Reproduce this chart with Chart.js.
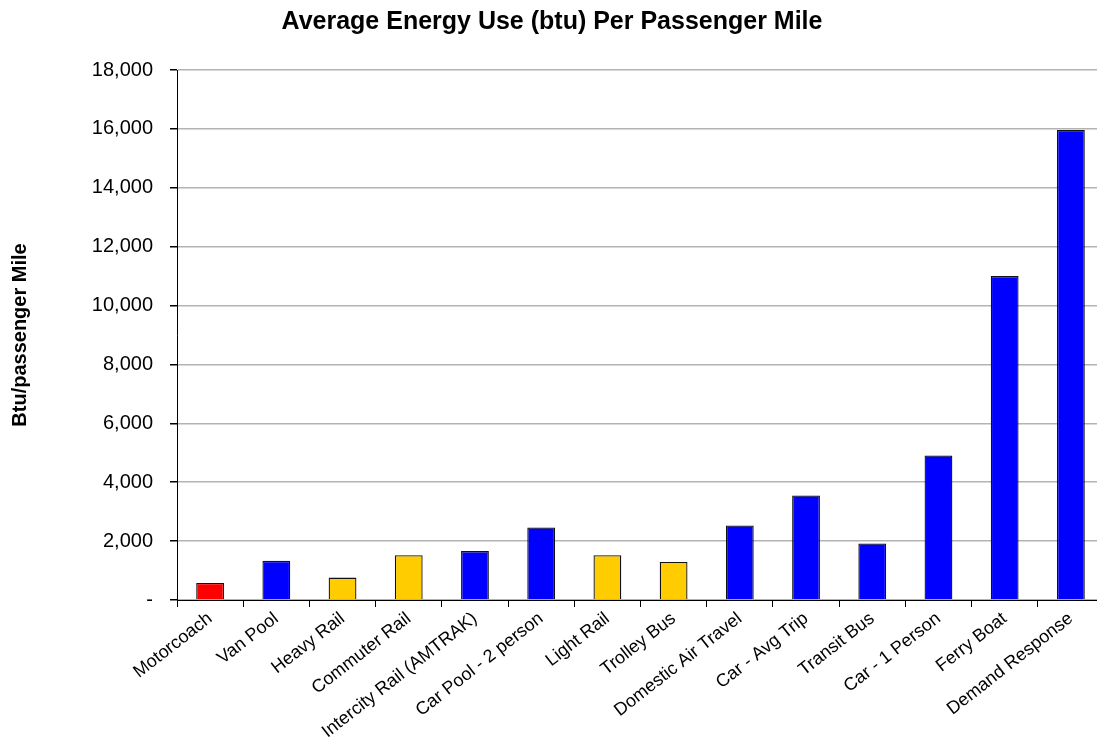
<!DOCTYPE html>
<html>
<head>
<meta charset="utf-8">
<title>Average Energy Use (btu) Per Passenger Mile</title>
<script src="https://cdn.jsdelivr.net/npm/chart.js@4/dist/chart.umd.min.js"></script>
<style>
    html, body { margin: 0; padding: 0; background: #fff; overflow: hidden; }
    #wrap { width: 1104px; height: 748px; }
</style>
</head>
<body>
<div id="wrap"><canvas id="chart" width="1104" height="748"></canvas></div>
<script>
// categories, left to right
const modes = [
    'Motorcoach', 'Van Pool', 'Heavy Rail', 'Commuter Rail', 'Intercity Rail (AMTRAK)',
    'Car Pool - 2 person', 'Light Rail', 'Trolley Bus', 'Domestic Air Travel',
    'Car - Avg Trip', 'Transit Bus', 'Car - 1 Person', 'Ferry Boat', 'Demand Response'
];

// btu per passenger mile
const btuPerMile = [580, 1330, 760, 1520, 1660, 2460, 1520, 1290, 2530, 3550, 1920, 4910, 11000, 15960];

// which group each bar belongs to (decides its colour)
const groups = [
    'coach', 'other', 'rail', 'rail', 'other', 'other', 'rail',
    'rail', 'other', 'other', 'other', 'other', 'other', 'other'
];

const yTicks = [0, 2000, 4000, 6000, 8000, 10000, 12000, 14000, 16000, 18000];

const groupColors = { coach: '#ff0000', rail: '#ffcc00', other: '#0000ff' };

const FONT = 'Arial, "Liberation Sans", sans-serif';

new Chart(document.getElementById('chart'), {
    type: 'bar',
    data: {
        labels: modes,
        datasets: [{
            label: 'Btu/passenger Mile',
            data: btuPerMile,
            backgroundColor: groups.map(g => groupColors[g]),
            borderColor: '#111',
            borderWidth: 1.3,
            borderSkipped: 'bottom',
            barPercentage: 0.42,
            categoryPercentage: 1
        }]
    },
    options: {
        responsive: false,
        animation: false,
        devicePixelRatio: 1,
        layout: { padding: 0 },
        plugins: {
            legend: { display: false },
            tooltip: { enabled: false },
            title: {
                display: true,
                text: 'Average Energy Use (btu) Per Passenger Mile',
                color: '#000',
                font: { family: FONT, size: 25, weight: 'bold' },
                padding: { top: 7, bottom: 33 }
            }
        },
        scales: {
            x: {
                offset: true,
                grid: {
                    offset: true,
                    drawOnChartArea: false,
                    drawTicks: true,
                    tickLength: 7,
                    tickColor: '#000'
                },
                border: { display: true, color: '#000', width: 1 },
                ticks: {
                    color: '#000',
                    font: { family: FONT, size: 18 },
                    minRotation: 38,
                    maxRotation: 38,
                    autoSkip: false,
                    padding: 1
                },
                afterFit(scale) { scale.height = 148; }
            },
            y: {
                min: 0,
                max: 18000,
                afterBuildTicks(scale) { scale.ticks = yTicks.map(v => ({ value: v })); },
                grid: {
                    color: '#b3b3b3',
                    lineWidth: 1.5,
                    drawTicks: true,
                    tickLength: 7,
                    tickColor: '#000'
                },
                border: { display: true, color: '#000', width: 1 },
                ticks: {
                    color: '#000',
                    font: { family: FONT, size: 20 },
                    padding: 17,
                    callback: v => v === 0 ? '-' : v.toLocaleString('en-US')
                },
                title: {
                    display: true,
                    text: 'Btu/passenger Mile',
                    color: '#000',
                    font: { family: FONT, size: 20, weight: 'bold' },
                    padding: { top: 8, bottom: 0 }
                },
                afterFit(scale) { scale.width = 177; }
            }
        }
    }
});
</script>
</body>
</html>
